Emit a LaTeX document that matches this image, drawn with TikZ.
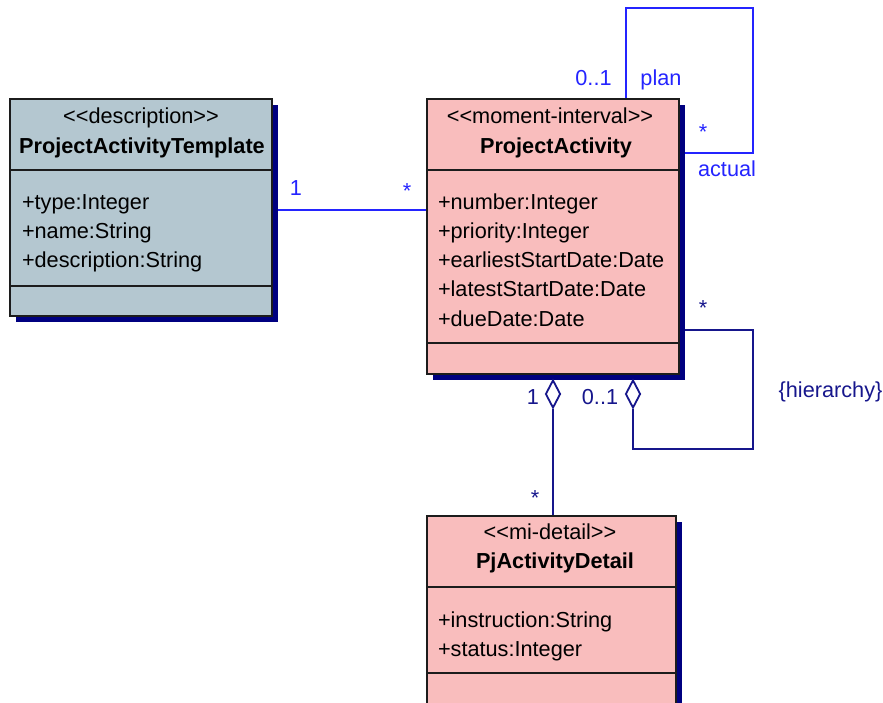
\documentclass[tikz,border=0pt]{standalone}
\usepackage{fontspec}
\setmainfont{Liberation Sans}[Ligatures=TeXOff]
\usetikzlibrary{shapes.geometric,shadows,backgrounds}

\definecolor{tmplfill}{RGB}{180,199,208}
\definecolor{mifill}{RGB}{249,189,189}
\definecolor{shadowc}{RGB}{0,0,128}
\definecolor{assocblue}{RGB}{36,36,255}
\definecolor{aggnavy}{RGB}{22,22,140}
\definecolor{edgec}{RGB}{28,28,28}

\begin{document}
\begin{tikzpicture}[x=1pt,y=-1pt,
  classbox/.style={draw=edgec, line width=1.6pt, anchor=north west,
    inner sep=0pt, outer sep=0pt,
    drop shadow={shadow xshift=6pt, shadow yshift=-6pt, fill=shadowc, opacity=1}},
  sepline/.style={draw=edgec, line width=1.6pt},
  txt/.style={font=\fontsize{21.7}{26}\selectfont, inner sep=0pt, outer sep=0pt, anchor=base},
  stereo/.style={txt},
  cname/.style={txt, font=\fontsize{21.7}{26}\selectfont\bfseries},
  attr/.style={txt, anchor=base west},
  assoc/.style={draw=assocblue, line width=1.8pt},
  agg/.style={draw=aggnavy, line width=1.8pt},
  bluelbl/.style={txt, text=assocblue},
  navylbl/.style={txt, text=aggnavy},
  aggdiamond/.style={diamond, draw=aggnavy, fill=white, line width=1.8pt,
    minimum width=15pt, minimum height=28pt, inner sep=0pt, aspect=0.5}
]
\path[use as bounding box, clip] (0,0) rectangle (883,703);

% ---- class boxes ----
\node[classbox, fill=tmplfill, minimum width=262pt, minimum height=217pt] (pat) at (10,99) {};
\node[classbox, fill=mifill, minimum width=252pt, minimum height=275pt] (pa) at (427,99) {};
\node[classbox, fill=mifill, minimum width=249pt, minimum height=260pt] (pad) at (427,516) {};

% compartments
\draw[sepline] (10,170) -- (272,170);
\draw[sepline] (10,286) -- (272,286);
\draw[sepline] (427,170) -- (679,170);
\draw[sepline] (427,343) -- (679,343);
\draw[sepline] (427,587) -- (676,587);
\draw[sepline] (427,673) -- (676,673);

% ProjectActivityTemplate
\node[stereo] (patst) at (141,123.5) {<<description>>};
\node[cname] (patnm) at (142,153.5) {ProjectActivityTemplate};
\node[attr] (pat1) at (22,210) {+type:Integer};
\node[attr] (pat2) at (22,239) {+name:String};
\node[attr] (pat3) at (22,268) {+description:String};

% ProjectActivity
\node[stereo] (past) at (550,123.5) {<<moment-interval>>};
\node[cname] (panm) at (556,153.5) {ProjectActivity};
\node[attr] (pa1) at (438,210) {+number:Integer};
\node[attr] (pa2) at (438,239) {+priority:Integer};
\node[attr] (pa3) at (438,268) {+earliestStartDate:Date};
\node[attr] (pa4) at (438,297) {+latestStartDate:Date};
\node[attr] (pa5) at (438,326) {+dueDate:Date};

% PjActivityDetail
\node[stereo] (padst) at (550,539) {<<mi-detail>>};
\node[cname] (padnm) at (555,568) {PjActivityDetail};
\node[attr] (pad1) at (438,627) {+instruction:String};
\node[attr] (pad2) at (438,656) {+status:Integer};

% ---- aggregation diamonds ----
\node[aggdiamond] (cdia) at (553,394) {};
\node[aggdiamond] (hdia) at (633,394) {};

% ---- connectors (behind the boxes) ----
\begin{scope}[on background layer]
  \draw[assoc] (pat.east |- 0,210) -- (pa.west |- 0,210);
  \draw[assoc] (pa.north -| 626,0) -- (626,8) -- (753,8) -- (753,153) -- (pa.east |- 0,153);
  \draw[agg] (pa.east |- 0,330) -- (753,330) -- (753,449) -- (hdia.south |- 0,449) -- (hdia.south);
  \draw[agg] (cdia.south) -- (pad.north -| cdia.south);
\end{scope}

% ---- labels ----
\node[bluelbl] (l1) at (296,196) {1};
\node[bluelbl] (l2) at (407,199) {*};
\node[bluelbl] (l3) at (593.5,86) {0..1};
\node[bluelbl] (l4) at (661,86) {plan};
\node[bluelbl] (l5) at (703,140) {*};
\node[bluelbl] (l6) at (727,177) {actual};
\node[navylbl] (l7) at (703,316) {*};
\node[navylbl] (l8) at (830.5,397) {\{hierarchy\}};
\node[navylbl] (l9) at (600,404) {0..1};
\node[navylbl] (l10) at (533,404) {1};
\node[navylbl] (l11) at (535,505) {*};
\end{tikzpicture}
\end{document}
